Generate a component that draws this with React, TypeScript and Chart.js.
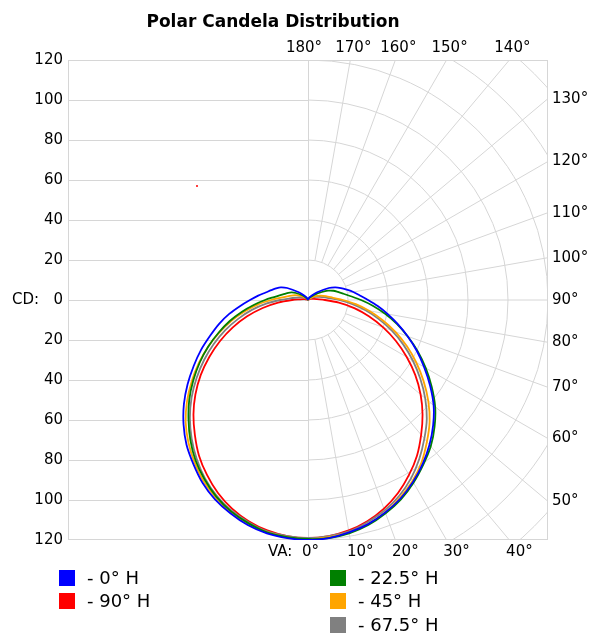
import React, { useEffect, useRef } from 'react';
import { Chart, registerables } from 'chart.js';

Chart.register(...registerables);

// Vertical angles (degrees from nadir) at which candela values are read
const verticalAngles = [0, 5, 10, 15, 20, 25, 30, 35, 40, 45, 50, 55, 60, 65, 70, 75, 80, 85, 90, 95, 100, 105, 110, 115, 120, 130, 140, 150, 160, 170, 180];

const planeLabels = ['0° H', '22.5° H', '45° H', '67.5° H', '90° H'];
const planeColors = ['#0000ff', '#008000', '#ffa500', '#808080', '#ff0000'];

// Candela values, left half of the diagram
const blueLeft = [120, 119.5, 118.5, 116.5, 113.5, 110, 105.5, 100, 94.5, 88, 81, 73.5, 66, 59, 52, 46, 40, 34, 29, 25, 21.5, 19, 17, 15, 12, 6, 3, 1.5, 0.5, 0, 0];
const greenLeft = [119.5, 119, 118, 115.5, 112.5, 108.5, 103.5, 98, 91.5, 84.5, 77.5, 70, 62.5, 55, 47.5, 40.5, 33.5, 27, 21.5, 17, 14, 12, 10.5, 9, 7, 3.5, 1.5, 0.5, 0, 0, 0];
const orangeLeft = [119.5, 119, 118, 116, 113, 109, 104.5, 99, 93, 86.5, 79, 71, 63, 55, 47, 39.5, 32, 25, 18.5, 13.5, 10.5, 8.5, 7, 5.5, 4, 2, 1, 0.5, 0, 0, 0];
const greyLeft = [119, 118.5, 117.5, 115, 112, 108, 103, 97, 90.5, 83.5, 76, 68, 60, 52, 44, 36, 28.5, 21, 14, 9, 6.5, 5, 4, 3, 2, 1, 0.5, 0, 0, 0, 0];
const redLeft = [119, 118.5, 117, 114.5, 111, 106.5, 101, 95, 88, 81, 73.5, 65.5, 57, 48.5, 40, 31.5, 23, 15, 8, 4, 2.5, 1.5, 1, 0.5, 0.5, 0, 0, 0, 0, 0, 0];

// Candela values, right half of the diagram
const blueRight = [120, 119.5, 118, 116, 113, 109.5, 105, 100, 94.5, 88.5, 82, 74.5, 67, 60, 53, 46.5, 40.5, 35, 30, 26, 23, 20, 17.5, 15, 12, 6, 3, 1.5, 0.5, 0, 0];
const greenRight = [120, 119.5, 118.5, 116.5, 113.5, 110, 105.5, 100.5, 95.5, 89.5, 83, 75.5, 68, 60.5, 53, 46, 39, 32.5, 26.5, 21.5, 18, 15.5, 13.5, 11, 8, 4, 2, 1, 0, 0, 0];
const orangeRight = [119.5, 119, 118, 116, 113, 109, 104.5, 99, 92.5, 86, 78.5, 70.5, 62.5, 54.5, 46.5, 38.5, 31, 24, 17.5, 12.5, 10, 8, 6.5, 5, 3.5, 1.5, 0.5, 0, 0, 0, 0];
const greyRight = [119, 118.5, 117.5, 115, 112, 108, 103, 97, 90.5, 84, 76.5, 68.5, 60.5, 52.5, 44.5, 36.5, 29, 22, 15.5, 10.5, 8, 6, 4.5, 3.5, 2.5, 1, 0.5, 0, 0, 0, 0];
const redRight = [119, 118.5, 117, 114.5, 111, 106.5, 101, 95, 88, 81, 73.5, 65.5, 57, 48.5, 40, 31.5, 23.5, 15.5, 8.5, 4.5, 3, 2, 1.5, 1, 0.5, 0, 0, 0, 0, 0, 0];

const leftValues = [blueLeft, greenLeft, orangeLeft, greyLeft, redLeft];
const rightValues = [blueRight, greenRight, orangeRight, greyRight, redRight];

// stray red mark visible in the picture (x, y in cd)
const strayX = [-55.5];
const strayY = [57];

// Axis / grid definitions
const cdTicks = [-120, -100, -80, -60, -40, -20, 0, 20, 40, 60, 80, 100, 120];
const gridRadii = [20, 40, 60, 80, 100, 120, 140, 160];
const radialAngles = [10, 20, 30, 40, 50, 60, 70, 80, 90, 100, 110, 120, 130, 140, 150, 160, 170];
const topAngleLabels = [180, 170, 160, 150, 140];
const rightAngleLabels = [130, 120, 110, 100, 90, 80, 70, 60, 50];
const bottomAngleLabels = [0, 10, 20, 30, 40];
const titleText = 'Polar Candela Distribution';

const RAD = Math.PI / 180;

function buildPoints(left: number[], right: number[]) {
  const pts: { x: number; y: number }[] = [];
  for (let i = verticalAngles.length - 1; i >= 0; i--) {
    const a = verticalAngles[i] * RAD;
    pts.push({ x: -left[i] * Math.sin(a), y: -left[i] * Math.cos(a) });
  }
  for (let i = 1; i < verticalAngles.length; i++) {
    const a = verticalAngles[i] * RAD;
    pts.push({ x: right[i] * Math.sin(a), y: -right[i] * Math.cos(a) });
  }
  return pts;
}

const GRID = '#d6d6d6';
const FONT = "'DejaVu Sans', Verdana, sans-serif";

const polarGridPlugin = {
  id: 'polarGrid',
  beforeDatasetsDraw(chart: any) {
    const { ctx, chartArea, scales } = chart;
    const xs = scales.x;
    const ys = scales.y;
    const cx = xs.getPixelForValue(0);
    const cy = ys.getPixelForValue(0);
    const unit = xs.getPixelForValue(1) - cx;
    ctx.save();
    ctx.beginPath();
    ctx.rect(chartArea.left, chartArea.top, chartArea.right - chartArea.left, chartArea.bottom - chartArea.top);
    ctx.clip();
    ctx.strokeStyle = GRID;
    ctx.lineWidth = 1;
    // left half horizontal lines
    cdTicks.forEach((v) => {
      const y = Math.round(ys.getPixelForValue(v)) + 0.5;
      ctx.beginPath();
      ctx.moveTo(chartArea.left, y);
      ctx.lineTo(Math.round(cx) + 0.5, y);
      ctx.stroke();
    });
    // vertical centre line
    ctx.beginPath();
    ctx.moveTo(Math.round(cx) + 0.5, chartArea.top);
    ctx.lineTo(Math.round(cx) + 0.5, chartArea.bottom);
    ctx.stroke();
    // right half arcs
    gridRadii.forEach((r) => {
      ctx.beginPath();
      ctx.arc(cx, cy, r * unit, -Math.PI / 2, Math.PI / 2);
      ctx.stroke();
    });
    // radial lines
    radialAngles.forEach((deg) => {
      const a = deg * RAD;
      const r0 = gridRadii[0] * unit;
      const r1 = 400;
      ctx.beginPath();
      ctx.moveTo(cx + r0 * Math.sin(a), cy + r0 * Math.cos(a));
      ctx.lineTo(cx + r1 * Math.sin(a), cy + r1 * Math.cos(a));
      ctx.stroke();
    });
    ctx.restore();
    // frame
    ctx.save();
    ctx.strokeStyle = GRID;
    ctx.lineWidth = 1;
    ctx.strokeRect(Math.round(chartArea.left) + 0.5, Math.round(chartArea.top) + 0.5, Math.round(chartArea.right - chartArea.left) - 1, Math.round(chartArea.bottom - chartArea.top) - 1);
    ctx.restore();
  },
  afterDraw(chart: any) {
    const { ctx, chartArea, scales } = chart;
    const xs = scales.x;
    const ys = scales.y;
    const lim = xs.max;
    ctx.save();
    ctx.fillStyle = '#000';
    // title
    ctx.font = `bold 17px ${FONT}`;
    ctx.textAlign = 'center';
    ctx.textBaseline = 'middle';
    ctx.fillText(titleText, 273, 23);

    ctx.font = `15px ${FONT}`;
    // top labels
    topAngleLabels.forEach((deg) => {
      const xv = -lim * Math.tan(deg * RAD);
      const px = xs.getPixelForValue(Math.abs(xv) < 1e-9 ? 0 : xv);
      ctx.textAlign = 'center';
      ctx.fillText(`${deg}°`, px + (deg === 180 ? -4 : 3), chartArea.top - 12);
    });
    // right labels
    rightAngleLabels.forEach((deg) => {
      const yv = -lim / Math.tan(deg * RAD);
      const py = ys.getPixelForValue(Math.abs(yv) < 1e-9 ? 0 : yv);
      ctx.textAlign = 'left';
      ctx.fillText(`${deg}°`, chartArea.right + 4, py);
    });
    // bottom labels
    bottomAngleLabels.forEach((deg) => {
      const xv = lim * Math.tan(deg * RAD);
      const px = xs.getPixelForValue(xv);
      if (deg === 0) {
        ctx.textAlign = 'right';
        ctx.fillText(`VA:  ${deg}°`, px + 11, chartArea.bottom + 12);
      } else {
        ctx.textAlign = 'center';
        ctx.fillText(`${deg}°`, px + 10, chartArea.bottom + 12);
      }
    });
    // legend
    const slots = [
      { x: 59, y: 578 },
      { x: 330, y: 578 },
      { x: 330, y: 601 },
      { x: 330, y: 625 },
      { x: 59, y: 601 },
    ];
    ctx.font = `18px ${FONT}`;
    ctx.textAlign = 'left';
    chart.data.datasets.slice(0, planeLabels.length).forEach((ds: any, i: number) => {
      const s = slots[i];
      ctx.fillStyle = ds.borderColor;
      ctx.fillRect(s.x, s.y - 8, 16, 16);
      ctx.fillStyle = '#000';
      ctx.fillText(`- ${ds.label}`, s.x + 28, s.y + 1);
    });
    ctx.restore();
  },
};

export default function App() {
  const ref = useRef<HTMLCanvasElement | null>(null);
  useEffect(() => {
    if (!ref.current) return;
    const datasets: any[] = planeLabels.map((label, i) => ({
      label,
      data: buildPoints(leftValues[i], rightValues[i]),
      borderColor: planeColors[i],
      backgroundColor: planeColors[i],
      borderWidth: 1.8,
      pointRadius: 0,
      showLine: true,
      tension: 0.3,
      fill: false,
    }));
    datasets.push({
      label: 'stray',
      data: strayX.map((x, i) => ({ x, y: strayY[i] })),
      borderColor: '#ff0000',
      backgroundColor: '#ff0000',
      pointRadius: 1,
      pointBorderWidth: 0,
      showLine: false,
    });
    const chart = new Chart(ref.current, {
      type: 'scatter',
      data: { datasets },
      options: {
        animation: false,
        responsive: false,
        devicePixelRatio: 1,
        layout: { padding: { left: 8, top: 60, right: 44, bottom: 97 } },
        plugins: { legend: { display: false }, tooltip: { enabled: false }, title: { display: false } },
        scales: {
          x: { type: 'linear', min: -120, max: 120, display: false },
          y: {
            type: 'linear',
            min: -120,
            max: 120,
            afterFit: (scale: any) => {
              scale.width = 60;
            },
            afterBuildTicks: (scale: any) => {
              scale.ticks = cdTicks.map((v) => ({ value: v }));
            },
            grid: { display: false, drawTicks: false },
            border: { display: false },
            ticks: {
              padding: 5,
              color: '#000',
              font: { family: FONT, size: 15 },
              callback: (v: any) => (Number(v) === 0 ? 'CD:   0' : String(Math.abs(Number(v)))),
            },
          },
        },
      } as any,
      plugins: [polarGridPlugin],
    });
    return () => chart.destroy();
  }, []);
  return (
    <div style={{ position: 'absolute', left: 0, top: 0, width: 592, height: 637, background: '#fff' }}>
      <canvas ref={ref} width={592} height={637} style={{ display: 'block' }} />
    </div>
  );
}
